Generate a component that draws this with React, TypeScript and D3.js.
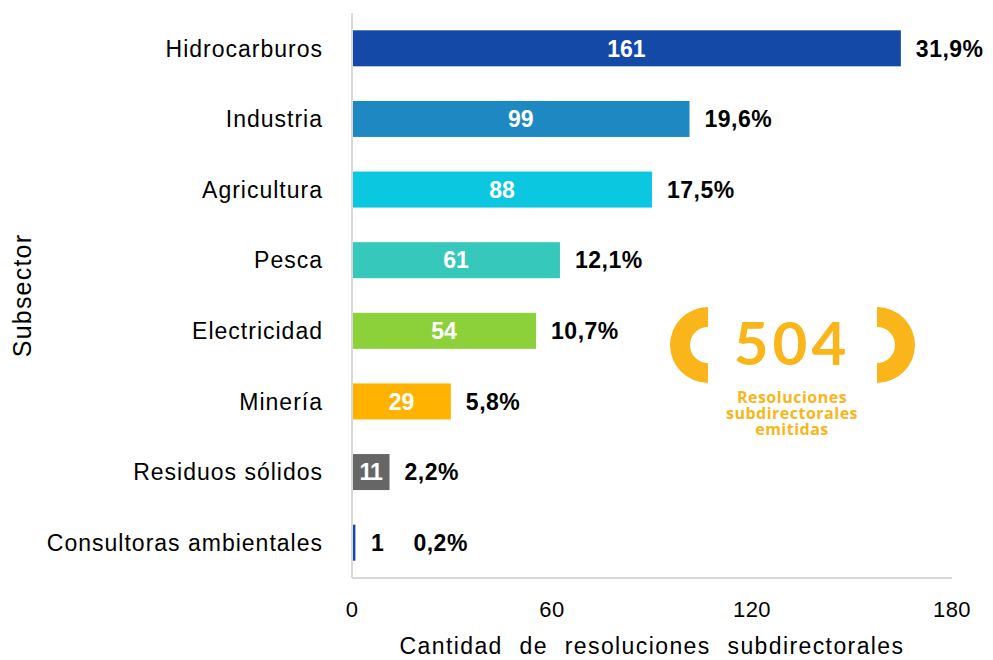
import { useRef, useEffect } from "react";
import * as d3 from "d3";

const subsectors = [
  "Hidrocarburos",
  "Industria",
  "Agricultura",
  "Pesca",
  "Electricidad",
  "Minería",
  "Residuos sólidos",
  "Consultoras ambientales",
];
const counts = [161, 99, 88, 61, 54, 29, 11, 1];
const shares = ["31,9%", "19,6%", "17,5%", "12,1%", "10,7%", "5,8%", "2,2%", "0,2%"];
const barColors = [
  "#1449A8",
  "#1E88C2",
  "#0CC7E0",
  "#36C8BB",
  "#8CD03A",
  "#FFB300",
  "#666666",
  "#1449A8",
];
const xTicks = [0, 60, 120, 180];
const total = 504;
const badgeLines = ["Resoluciones", "subdirectorales", "emitidas"];

export default function App() {
  const svgRef = useRef<SVGSVGElement>(null);

  useEffect(() => {
    const svg = d3.select(svgRef.current);
    svg.selectAll("*").remove();

    const width = 993;
    const height = 660;
    const margin = { top: 13, right: 41, bottom: 82, left: 352 };
    const font = "'Liberation Sans', Arial, sans-serif";
    const yellow = "#F9B51A";

    const data = subsectors.map((name, i) => ({
      name,
      count: counts[i],
      share: shares[i],
      color: barColors[i],
    }));

    // tick labels sit on the full plot width; the bars run slightly longer
    const xAxis = d3
      .scaleLinear()
      .domain([0, 180])
      .range([margin.left, width - margin.right]);
    const xBar = d3
      .scaleLinear()
      .domain([0, 176])
      .range([margin.left, width - margin.right]);

    const y = d3
      .scaleBand()
      .domain(subsectors)
      .range([margin.top, height - margin.bottom])
      .paddingInner(0.49)
      .paddingOuter(0.245);

    svg.attr("width", width).attr("height", height).style("font-family", font);

    // axis lines
    svg
      .append("line")
      .attr("x1", margin.left)
      .attr("x2", margin.left)
      .attr("y1", margin.top)
      .attr("y2", height - margin.bottom)
      .attr("stroke", "#D9D9D9")
      .attr("stroke-width", 2);
    svg
      .append("line")
      .attr("x1", margin.left)
      .attr("x2", width - margin.right)
      .attr("y1", height - margin.bottom)
      .attr("y2", height - margin.bottom)
      .attr("stroke", "#D9D9D9")
      .attr("stroke-width", 2);

    // bars
    svg
      .selectAll("rect.bar")
      .data(data)
      .join("rect")
      .attr("class", "bar")
      .attr("x", margin.left + 1)
      .attr("y", (d) => y(d.name)!)
      .attr("width", (d) => xBar(d.count) - margin.left - 1)
      .attr("height", y.bandwidth())
      .attr("fill", (d) => d.color);

    const fits = (d: { count: number }) => xBar(d.count) - margin.left > 20;

    // count labels
    svg
      .selectAll("text.count")
      .data(data)
      .join("text")
      .attr("class", "count")
      .attr("x", (d) =>
        fits(d) ? (margin.left + xBar(d.count)) / 2 : xBar(d.count) + 22
      )
      .attr("y", (d) => y(d.name)! + y.bandwidth() / 2)
      .attr("dy", "0.36em")
      .attr("text-anchor", "middle")
      .attr("font-size", 23)
      .attr("font-weight", "bold")
      .attr("letter-spacing", (d) => (d.count === 11 ? -1 : 0))
      .attr("fill", (d) => (fits(d) ? "#fff" : "#000"))
      .text((d) => d.count);

    // share labels
    svg
      .selectAll("text.share")
      .data(data)
      .join("text")
      .attr("class", "share")
      .attr("x", (d) => xBar(d.count) + (fits(d) ? 15 : 58))
      .attr("y", (d) => y(d.name)! + y.bandwidth() / 2)
      .attr("dy", "0.36em")
      .attr("font-size", 23)
      .attr("font-weight", "bold")
      .attr("letter-spacing", 0.5)
      .attr("fill", "#000")
      .text((d) => d.share);

    // category labels
    svg
      .selectAll("text.cat")
      .data(data)
      .join("text")
      .attr("class", "cat")
      .attr("x", margin.left - 29)
      .attr("y", (d) => y(d.name)! + y.bandwidth() / 2)
      .attr("dy", "0.36em")
      .attr("text-anchor", "end")
      .attr("font-size", 23)
      .attr("letter-spacing", 1)
      .attr("fill", "#000")
      .text((d) => d.name);

    // x tick labels
    svg
      .selectAll("text.tick")
      .data(xTicks)
      .join("text")
      .attr("class", "tick")
      .attr("x", (d) => xAxis(d))
      .attr("y", 617)
      .attr("text-anchor", "middle")
      .attr("font-size", 22)
      .attr("letter-spacing", 0.5)
      .attr("fill", "#000")
      .text((d) => d);

    // axis titles
    svg
      .append("text")
      .attr("x", (margin.left + width - margin.right) / 2)
      .attr("y", 654)
      .attr("text-anchor", "middle")
      .attr("font-size", 23)
      .attr("letter-spacing", 1.4)
      .attr("word-spacing", 9)
      .attr("fill", "#000")
      .text("Cantidad de resoluciones subdirectorales");

    svg
      .append("text")
      .attr("transform", `translate(31,${(margin.top + height - margin.bottom) / 2}) rotate(-90)`)
      .attr("text-anchor", "middle")
      .attr("font-size", 25)
      .attr("letter-spacing", 1.2)
      .attr("fill", "#000")
      .text("Subsector");

    // 504 badge
    const badge = svg.append("g").attr("transform", "translate(792,345)");
    const bracket = d3.arc<{ s: number; e: number }>()
      .innerRadius(18)
      .outerRadius(38)
      .startAngle((d) => d.s)
      .endAngle((d) => d.e);
    badge
      .append("path")
      .attr("transform", "translate(-84,0)")
      .attr("d", bracket({ s: Math.PI, e: 2 * Math.PI })!)
      .attr("fill", yellow);
    badge
      .append("path")
      .attr("transform", "translate(85,0)")
      .attr("d", bracket({ s: 0, e: Math.PI })!)
      .attr("fill", yellow);
    badge
      .append("text")
      .attr("x", 0)
      .attr("y", 20)
      .attr("text-anchor", "middle")
      .attr("font-family", "Lato, sans-serif")
      .attr("font-weight", 700)
      .attr("font-size", 60)
      .attr("letter-spacing", 4)
      .attr("fill", yellow)
      .text(total);
    badge
      .selectAll("text.sub")
      .data(badgeLines)
      .join("text")
      .attr("class", "sub")
      .attr("x", 0)
      .attr("y", (d, i) => 58 + i * 16)
      .attr("text-anchor", "middle")
      .attr("font-family", "'Open Sans', sans-serif")
      .attr("font-weight", 700)
      .attr("font-size", 16)
      .attr("letter-spacing", 0.5)
      .attr("fill", yellow)
      .text((d) => d);
  }, []);

  return (
    <svg
      ref={svgRef}
      style={{ position: "absolute", left: 0, top: 0, display: "block", background: "#fff" }}
    />
  );
}
